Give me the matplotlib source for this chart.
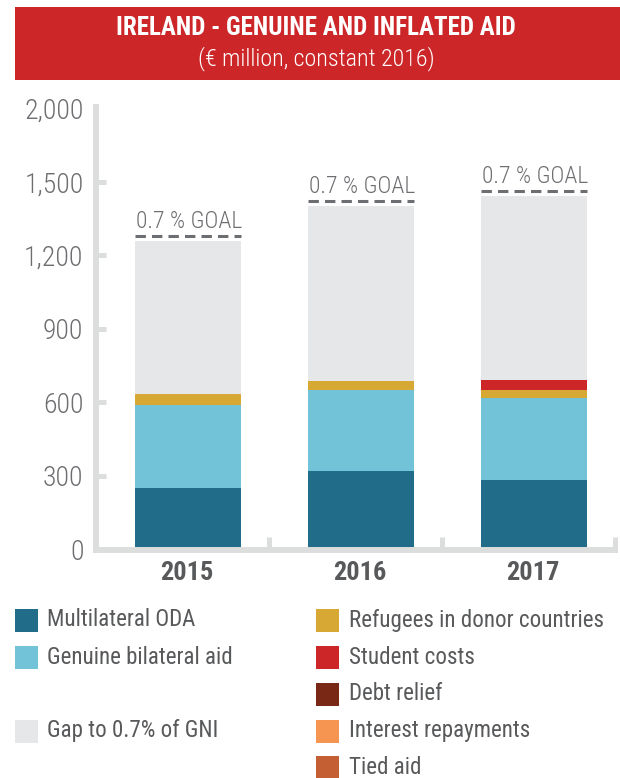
import matplotlib
matplotlib.use("Agg")
import matplotlib.pyplot as plt
from matplotlib.patches import Rectangle
from matplotlib import font_manager as fm
import matplotlib.transforms as mtransforms

# ---------------- data ----------------
years = ["2015", "2016", "2017"]
multilateral_oda = [252, 320, 284]
genuine_bilateral = [338, 332, 336]
refugees = [45, 36, 31]
student_costs = [0, 0, 41]
debt_relief = [0, 0, 0]
interest_repayments = [0, 0, 0]
tied_aid = [0, 0, 0]
gap_to_goal = [624, 714, 751]

ytick_values = [0, 300, 600, 900, 1200, 1500, 1800]
ytick_labels = ["0", "300", "600", "900", "1,200", "1,500", "2,000"]

title = "IRELAND - GENUINE AND INFLATED AID"
subtitle = "(\u20ac million, constant 2016)"
goal_label = "0.7 % GOAL"

# ---------------- fonts ----------------
available = {f.name for f in fm.fontManager.ttflist}
prefs = ["Roboto Condensed", "IBM Plex Sans Condensed", "Fira Sans Condensed",
         "Archivo Narrow", "Barlow Semi Condensed", "Liberation Sans"]
COND = next((p for p in prefs if p in available), "DejaVu Sans")
FONT = [COND, "DejaVu Sans"]
plt.rcParams["font.family"] = FONT

C_MULTI = "#216c89"
C_BILAT = "#72c3d8"
C_GAP = "#e6e7e8"
C_REF = "#d8a834"
C_STUD = "#cc2628"
C_DEBT = "#7a2816"
C_INT = "#f59551"
C_TIED = "#c45f34"
C_RED = "#cc2628"
C_AXIS = "#dcdddd"
C_TXT = "#58595b"
C_TICK = "#6d6e71"

series = [
    ("Multilateral ODA", multilateral_oda, C_MULTI),
    ("Genuine bilateral aid", genuine_bilateral, C_BILAT),
    ("Refugees in donor countries", refugees, C_REF),
    ("Student costs", student_costs, C_STUD),
    ("Debt relief", debt_relief, C_DEBT),
    ("Interest repayments", interest_repayments, C_INT),
    ("Tied aid", tied_aid, C_TIED),
    ("Gap to 0.7% of GNI", gap_to_goal, C_GAP),
]

W, H = 620, 778
fig = plt.figure(figsize=(W / 100, H / 100), dpi=100)

# overlay in pixel coordinates for banner and legend
ov = fig.add_axes([0, 0, 1, 1])
ov.set_xlim(0, W)
ov.set_ylim(H, 0)
ov.axis("off")

ov.add_patch(Rectangle((15, 7), 605, 73, facecolor=C_RED, edgecolor="none"))
ov.text(316, 28, title, color="white", fontsize=18, fontweight="bold",
        ha="center", va="center")
ov.text(316, 59, subtitle, color="white", fontsize=17.3, fontweight="light",
        ha="center", va="center")

# ---------------- main axes ----------------
left_px, right_px, top_px, bot_px = 96, 615, 107, 549.5
ax = fig.add_axes([left_px / W, (H - bot_px) / H,
                   (right_px - left_px) / W, (bot_px - top_px) / H])
ax.set_zorder(2)
ax.patch.set_alpha(0)

x = [i + 0.03 for i in range(len(years))]
width = 0.613
bottoms = [0.0] * len(years)
for name, vals, col in series:
    ax.bar(x, vals, width, bottom=bottoms, color=col, edgecolor="none",
           zorder=2)
    bottoms = [b + v for b, v in zip(bottoms, vals)]
totals = bottoms

# goal dashed line and label
line_tr = mtransforms.offset_copy(ax.transData, fig=fig, x=0, y=5, units="dots")
for xi, tot in zip(x, totals):
    ax.plot([xi - width / 2, xi + width / 2], [tot, tot], transform=line_tr,
            color=C_TICK, lw=2.2, dashes=(3.4, 2.0), solid_capstyle="butt",
            dash_capstyle="butt", zorder=3, clip_on=False)
    ax.annotate(goal_label, xy=(xi - width / 2, tot), xytext=(1, 13),
                textcoords="offset pixels", ha="left", va="baseline",
                fontsize=17, fontweight="light", color=C_TICK,
                annotation_clip=False)

ax.set_xlim(-0.5, 2.5)
ax.set_ylim(0, 1806)

for s in ["top", "right"]:
    ax.spines[s].set_visible(False)
for s in ["left", "bottom"]:
    ax.spines[s].set_color(C_AXIS)
    ax.spines[s].set_linewidth(4.3)
    ax.spines[s].set_zorder(5)
    ax.spines[s].set_capstyle("projecting")

ax.set_yticks(ytick_values)
ax.set_yticklabels(ytick_labels)
ax.tick_params(axis="y", direction="in", length=7, width=3.6, color=C_AXIS,
               labelsize=20, labelcolor=C_TICK, pad=9)
for lab in ax.get_yticklabels():
    lab.set_fontweight("light")
yt = ax.yaxis.get_major_ticks()
yt[0].tick1line.set_visible(False)
yt[-1].tick1line.set_visible(False)

# category boundary ticks on x axis, year labels
ax.set_xticks([0.5, 1.5, 2.5])
ax.set_xticklabels([])
ax.tick_params(axis="x", direction="in", length=9.5, width=3.6, color=C_AXIS)
for xi, yr in zip(x, years):
    ax.annotate(yr, xy=(xi, 0), xytext=(-1, -23), textcoords="offset pixels",
                ha="center", va="center", fontsize=19, fontweight="bold",
                color=C_TXT, annotation_clip=False)

# ---------------- legend ----------------
legend_left = [series[0], series[1], None, series[7]]
legend_right = [series[2], series[3], series[4], series[5], series[6]]
row_y = [620, 657, 694, 731, 767]
for col_items, sq_x, tx_x in [(legend_left, 15, 47), (legend_right, 316, 349)]:
    for item, yy in zip(col_items, row_y):
        if item is None:
            continue
        name, _, colr = item
        ov.add_patch(Rectangle((sq_x, yy - 11.5), 23, 23, facecolor=colr,
                               edgecolor="none"))
        ov.text(tx_x, yy, name, fontsize=16.6, color=C_TXT, ha="left",
                va="center")

fig.savefig("out.png", dpi=100)
